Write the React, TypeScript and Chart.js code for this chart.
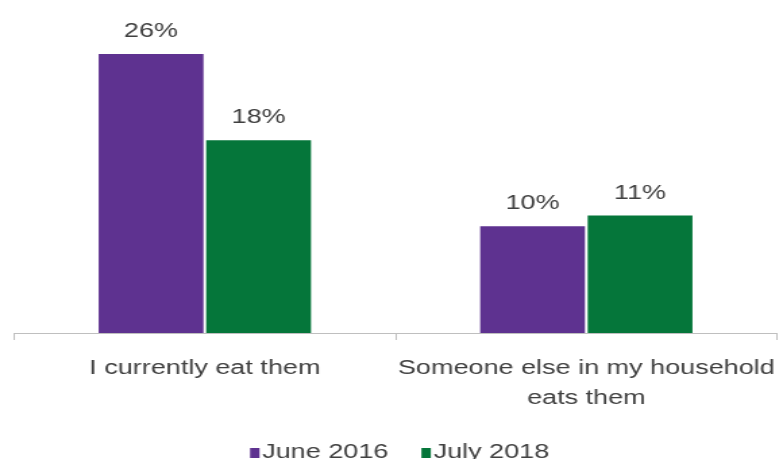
import React, { useEffect, useRef } from "react";
import { Chart, registerables } from "chart.js";

Chart.register(...registerables);

const categories: (string | string[])[] = [
  "I currently eat them",
  ["Someone else in my household", "eats them"],
];
const seriesNames = ["June 2016", "July 2018"];
const june2016 = [26, 10];
const july2018 = [18, 11];
const seriesColors = ["#5E3290", "#05763A"];

const SX = 1.35;
const INNER_W = 783 / SX;
const INNER_H = 459;
const FONT = "'Liberation Sans', Arial, sans-serif";
const TEXT = "#404040";

const valueLabels = {
  id: "valueLabels",
  afterDatasetsDraw(chart: any) {
    const ctx = chart.ctx;
    ctx.save();
    ctx.font = `20px ${FONT}`;
    ctx.fillStyle = TEXT;
    ctx.textAlign = "center";
    ctx.textBaseline = "alphabetic";
    chart.data.datasets.forEach((ds: any, i: number) => {
      const meta = chart.getDatasetMeta(i);
      meta.data.forEach((bar: any, j: number) => {
        ctx.fillText(`${ds.data[j]}%`, bar.x, bar.y - 16);
      });
    });
    ctx.restore();
  },
};

const bottomLegend = {
  id: "bottomLegend",
  afterDraw(chart: any) {
    const ctx = chart.ctx;
    ctx.save();
    ctx.font = `20px ${FONT}`;
    ctx.textBaseline = "alphabetic";
    ctx.textAlign = "left";
    const boxW = 7;
    const boxH = 10;
    const gap = 2;
    const itemGap = 24.5;
    const items = chart.data.datasets.map((ds: any) => ({
      text: ds.label,
      color: ds.backgroundColor,
      w: ctx.measureText(ds.label).width,
    }));
    const total =
      items.reduce((s: number, it: any) => s + boxW + gap + it.w, 0) +
      itemGap * (items.length - 1);
    let x = chart.width / 2 + 6 - total / 2;
    const baseY = chart.height - 1;
    items.forEach((it: any) => {
      ctx.fillStyle = it.color;
      ctx.fillRect(x, baseY - boxH, boxW, boxH);
      x += boxW + gap;
      ctx.fillStyle = TEXT;
      ctx.fillText(it.text, x, baseY);
      x += it.w + itemGap;
    });
    ctx.restore();
  },
};

export default function App() {
  const ref = useRef<HTMLCanvasElement>(null);
  useEffect(() => {
    document.body.style.margin = "0";
    const chart = new Chart(ref.current!, {
      type: "bar",
      data: {
        labels: categories,
        datasets: [
          {
            label: seriesNames[0],
            data: june2016,
            backgroundColor: seriesColors[0],
            borderColor: "rgba(255,255,255,0.8)",
            borderWidth: 1,
          },
          {
            label: seriesNames[1],
            data: july2018,
            backgroundColor: seriesColors[1],
            borderColor: "rgba(255,255,255,0.8)",
            borderWidth: 1,
          },
        ],
      },
      options: {
        animation: false,
        responsive: true,
        maintainAspectRatio: false,
        layout: { padding: { top: 10, left: 10.4, right: 4.4, bottom: 33 } },
        datasets: { bar: { categoryPercentage: 0.5636, barPercentage: 1 } },
        scales: {
          x: {
            afterFit(scale: any) {
              scale.paddingLeft = 0;
              scale.paddingRight = 0;
            },
            grid: {
              offset: true,
              drawOnChartArea: false,
              drawTicks: true,
              tickLength: 7,
              color: "#BFBFBF",
            },
            border: { display: true, color: "#BFBFBF", width: 1 },
            ticks: {
              color: TEXT,
              font: { family: FONT, size: 20, lineHeight: 1.5 },
              maxRotation: 0,
              autoSkip: false,
              padding: 13,
            },
          },
          y: { display: false, min: 0, max: 30 },
        },
        plugins: {
          legend: { display: false },
          tooltip: { enabled: false },
        },
      },
      plugins: [valueLabels, bottomLegend],
    });
    return () => chart.destroy();
  }, []);
  return (
    <div
      style={{
        position: "fixed",
        left: 0,
        top: 0,
        width: 783,
        height: 459,
        overflow: "hidden",
        background: "#fff",
      }}
    >
      <div
        style={{
          width: INNER_W,
          height: INNER_H,
          transform: `scaleX(${SX})`,
          transformOrigin: "0 0",
        }}
      >
        <canvas ref={ref} />
      </div>
    </div>
  );
}
